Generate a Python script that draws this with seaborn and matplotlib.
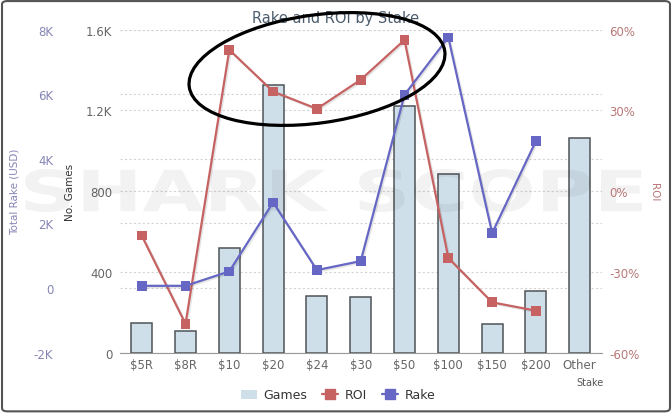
import numpy as np
import pandas as pd
import seaborn as sns
import matplotlib.pyplot as plt
import matplotlib.patheffects as pe
from matplotlib.patches import Patch, Ellipse, FancyBboxPatch, PathPatch
from matplotlib.lines import Line2D
from matplotlib.textpath import TextPath
from matplotlib.font_manager import FontProperties
from matplotlib.transforms import Affine2D

# data
stakes = ['$5R', '$8R', '$10', '$20', '$24', '$30', '$50', '$100', '$150', '$200', 'Other']
games = [146, 106, 517, 1327, 279, 276, 1220, 884, 141, 304, 1063]
rake = [70, 70, 517, 2653, 557, 836, 5985, 7762, 1703, 4551, np.nan]
roi = [-16.5, -49.3, 52.5, 37.0, 30.6, 41.4, 56.2, -24.8, -41.3, -44.4, np.nan]

games_ticks = [0, 400, 800, 1200, 1600]
games_labels = ['0', '400', '800', '1.2K', '1.6K']
rake_ticks = [-2000, 0, 2000, 4000, 6000, 8000]
rake_labels = ['-2K', '0', '2K', '4K', '6K', '8K']
roi_ticks = [-60, -30, 0, 30, 60]
roi_labels = ['-60%', '-30%', '0%', '30%', '60%']

bar_color = '#cfdfe9'
roi_color = '#c66262'
rake_color = '#6666c4'

df = pd.DataFrame({'stake': stakes, 'games': games, 'rake': rake, 'roi': roi})
df['pos'] = np.arange(len(df))

sns.set_style('white')
plt.rcParams['font.family'] = ['DejaVu Sans']

fig = plt.figure(figsize=(6.72, 4.14), dpi=100)
rect = [0.1783, 0.1457, 0.7170, 0.7802]

# background axes: rake grid lines only
ax_bg = fig.add_axes(rect)
ax_bg.set_ylim(-2000, 8000)
ax_bg.set_yticks(rake_ticks)
ax_bg.set_xlim(-0.5, len(stakes) - 0.5)
ax_bg.grid(axis='y', color='#d4d4d4', linestyle=(0, (2, 2)), linewidth=0.8)
ax_bg.tick_params(left=False, bottom=False, labelleft=False, labelbottom=False)
for s in ax_bg.spines.values():
    s.set_visible(False)
ax_bg.set_zorder(0)

# games bars
ax = fig.add_axes(rect)
ax.patch.set_visible(False)
ax.set_zorder(1)
sns.barplot(data=df, x='stake', y='games', ax=ax, color=bar_color, saturation=1,
            edgecolor='#4f5457', linewidth=1.1, width=0.48)
ax.set_ylim(0, 1600)
ax.set_yticks(games_ticks)
ax.set_yticklabels(games_labels)
ax.grid(axis='y', color='#d4d4d4', linestyle=(0, (2, 2)), linewidth=0.8)
ax.set_axisbelow(True)
ax.tick_params(axis='y', length=0, pad=5.5, labelsize=8.5, labelcolor='#666666')
ax.tick_params(axis='x', which='major', length=0, pad=4, labelsize=8.5, labelcolor='#666666')
ax.set_xticks(np.arange(-0.5, len(stakes), 1), minor=True)
ax.tick_params(axis='x', which='minor', length=5, color='#aaaaaa', width=0.8)
for k in ['left', 'right', 'top']:
    ax.spines[k].set_visible(False)
ax.spines['bottom'].set_color('#999999')
ax.set_xlabel('')
ax.set_ylabel('No. Games', fontsize=7.5, color='#333333')
ax.yaxis.set_label_coords(-0.093, 0.5)

# ROI line on right axis
ax_roi = ax.twinx()
ax_roi.set_zorder(3)
sns.lineplot(data=df, x='pos', y='roi', ax=ax_roi, sort=False, color=roi_color,
             linewidth=1.6, marker='s', markersize=7, markeredgewidth=0,
             path_effects=[pe.SimpleLineShadow(offset=(1, -1), alpha=0.1), pe.Normal()])
ax_roi.set_ylim(-60, 60)
ax_roi.set_yticks(roi_ticks)
ax_roi.set_yticklabels(roi_labels)
ax_roi.tick_params(axis='y', length=0, pad=5.5, labelsize=8.5, labelcolor='#b87878')
ax_roi.set_ylabel('ROI', fontsize=7.5, color='#b87878', rotation=-90)
ax_roi.yaxis.set_label_coords(1.12, 0.5)
for s in ax_roi.spines.values():
    s.set_visible(False)

# rake line on outer left axis
ax_rake = ax.twinx()
ax_rake.set_zorder(4)
sns.lineplot(data=df, x='pos', y='rake', ax=ax_rake, sort=False, color=rake_color,
             linewidth=1.6, marker='s', markersize=7, markeredgewidth=0,
             path_effects=[pe.SimpleLineShadow(offset=(1, -1), alpha=0.1), pe.Normal()])
ax_rake.set_ylim(-2000, 8000)
ax_rake.set_yticks(rake_ticks)
ax_rake.set_yticklabels(rake_labels)
ax_rake.yaxis.set_ticks_position('left')
ax_rake.yaxis.set_label_position('left')
ax_rake.spines['left'].set_position(('outward', 42.5))
for s in ax_rake.spines.values():
    s.set_visible(False)
ax_rake.tick_params(axis='y', length=0, pad=5.5, labelsize=8.5, labelcolor='#8585b5')
ax_rake.set_ylabel('Total Rake (USD)', fontsize=7.5, color='#8585b5')
ax_rake.yaxis.set_label_coords(-0.209, 0.5)

ax.set_xlim(-0.5, len(stakes) - 0.5)
ax_roi.set_xlabel('')
ax_rake.set_xlabel('')

# watermark
tp = TextPath((0, 0), 'SHARK SCOPE', size=100,
              prop=FontProperties(family='DejaVu Sans', weight='bold'))
bb = tp.get_extents()
wm_tr = (Affine2D().translate(-bb.x0, -bb.y0)
         .scale(617 / bb.width / 100, 43 / bb.height / 100)
         .translate(25 / 100, (414 - 213) / 100) + fig.dpi_scale_trans)
wm = PathPatch(tp, transform=wm_tr, facecolor='black', edgecolor='none', alpha=0.05, zorder=2)
fig.add_artist(wm)

# title, axis note, legend
fig.text(336 / 672, 1 - 18 / 414, 'Rake and ROI by Stake', ha='center', va='center',
         fontsize=10.5, color='#4d5d6d')
fig.text(590 / 672, 1 - 383 / 414, 'Stake', ha='center', va='center',
         fontsize=7, color='#555555')

handles = [
    Patch(facecolor=bar_color, edgecolor='none', label='Games'),
    Line2D([0], [0], color=roi_color, lw=1.6, marker='s', markersize=7, label='ROI'),
    Line2D([0], [0], color=rake_color, lw=1.6, marker='s', markersize=7, label='Rake'),
]
fig.legend(handles=handles, loc='center', bbox_to_anchor=(338 / 672, 1 - 396 / 414),
           ncol=3, frameon=False, fontsize=9, handlelength=1.3, columnspacing=1.2,
           handletextpad=0.5, labelcolor='#333333')

# hand-drawn circle around the title
fig.add_artist(Ellipse((3.17, (414 - 70) / 100), 2.58, 1.08, angle=8, fill=False,
                       edgecolor='black', linewidth=2.3, zorder=10,
                       transform=fig.dpi_scale_trans))

# rounded frame
fig.add_artist(FancyBboxPatch((0.003, 0.004), 0.994, 0.991,
                              boxstyle='round,pad=0,rounding_size=0.008',
                              transform=fig.transFigure, fill=False,
                              edgecolor='#555555', linewidth=1.5, zorder=11))

fig.savefig('out.png', dpi=100)
